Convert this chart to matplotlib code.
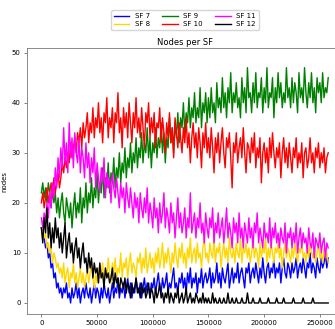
import numpy as np
import matplotlib.pyplot as plt

# ==== DATA (one sample every 1250 time units) ====
STEP = 1250
SF_LABELS = ["SF 7", "SF 8", "SF 9", "SF 10", "SF 11", "SF 12"]
SF_COLORS = ["blue", "gold", "green", "red", "magenta", "black"]

sf7 = [15, 14, 13, 11, 12, 9, 10, 7, 8, 5,
       6, 3, 4, 2, 3, 1, 3, 2, 4, 1,
       2, 0, 3, 1, 2, 4, 1, 3, 0, 2,
       3, 1, 4, 2, 1, 3, 0, 2, 4, 1,
       3, 2, 0, 3, 1, 4, 2, 1, 3, 0,
       2, 4, 1, 3, 2, 5, 1, 3, 2, 4,
       1, 3, 5, 2, 4, 1, 3, 2, 5, 3,
       2, 4, 1, 3, 5, 2, 4, 3, 1, 4,
       3, 5, 2, 4, 6, 3, 2, 5, 3, 4,
       6, 2, 4, 3, 5, 7, 3, 4, 2, 5,
       4, 6, 3, 5, 2, 6, 4, 7, 3, 5,
       4, 6, 2, 5, 4, 7, 3, 5, 6, 4,
       5, 7, 3, 6, 4, 5, 8, 4, 6, 3,
       7, 5, 4, 6, 8, 3, 5, 7, 4, 6,
       5, 8, 4, 6, 7, 5, 3, 7, 6, 8,
       4, 6, 7, 5, 8, 6, 4, 7, 5, 9,
       6, 4, 7, 8, 5, 7, 6, 9, 5, 7,
       6, 8, 4, 7, 9, 6, 5, 8, 7, 5,
       8, 6, 7, 9, 5, 7, 8, 6, 9, 7,
       5, 8, 7, 10, 6, 8, 7, 5, 9, 7,
       6, 9, 7, 8, 10, 7, 9]

sf8 = [15, 14, 13, 14, 11, 12, 10, 11, 8, 10,
       9, 7, 8, 6, 7, 5, 8, 4, 6, 7,
       3, 6, 5, 8, 4, 6, 3, 5, 7, 4,
       6, 3, 5, 7, 4, 6, 8, 5, 3, 6,
       4, 7, 5, 6, 8, 4, 7, 5, 9, 6,
       4, 8, 6, 9, 5, 7, 6, 10, 5, 8,
       7, 9, 5, 8, 10, 6, 8, 7, 5, 9,
       8, 10, 6, 9, 7, 11, 6, 8, 10, 7,
       9, 6, 10, 8, 11, 7, 9, 12, 7, 10,
       8, 11, 9, 6, 10, 8, 12, 9, 7, 11,
       9, 12, 8, 10, 7, 11, 9, 13, 8, 10,
       11, 8, 12, 9, 10, 7, 11, 13, 9, 10,
       8, 12, 10, 9, 13, 8, 11, 10, 12, 7,
       10, 12, 9, 11, 8, 13, 10, 9, 11, 8,
       12, 10, 9, 13, 8, 11, 10, 12, 9, 11,
       8, 10, 13, 9, 11, 10, 7, 12, 9, 11,
       10, 13, 8, 11, 9, 12, 10, 8, 11, 10,
       12, 9, 11, 7, 10, 12, 9, 11, 10, 8,
       11, 9, 12, 10, 8, 11, 10, 12, 9, 10,
       8, 11, 9, 12, 10, 9, 11, 8, 10, 12,
       9, 10, 8, 11, 9, 10, 8]

sf9 = [22, 24, 21, 23, 20, 24, 22, 19, 23, 20,
       22, 18, 21, 17, 20, 22, 18, 16, 21, 19,
       17, 20, 15, 19, 22, 17, 20, 18, 23, 16,
       21, 19, 24, 18, 22, 20, 25, 19, 23, 21,
       26, 20, 24, 22, 27, 21, 25, 23, 28, 22,
       26, 24, 29, 23, 27, 25, 30, 24, 28, 26,
       31, 25, 29, 27, 32, 26, 30, 28, 33, 27,
       31, 29, 34, 28, 32, 30, 35, 29, 33, 27,
       32, 30, 35, 29, 33, 31, 36, 30, 34, 28,
       33, 31, 37, 32, 35, 30, 36, 33, 38, 32,
       37, 35, 40, 34, 38, 36, 41, 35, 39, 37,
       42, 36, 39, 37, 43, 35, 40, 38, 42, 36,
       41, 37, 43, 38, 40, 36, 44, 39, 41, 38,
       45, 39, 42, 37, 43, 40, 46, 38, 42, 40,
       44, 39, 41, 37, 45, 40, 43, 38, 47, 41,
       42, 38, 44, 40, 46, 39, 42, 41, 45, 38,
       43, 40, 47, 39, 42, 41, 45, 37, 43, 40,
       46, 41, 44, 39, 42, 40, 47, 41, 43, 39,
       45, 40, 44, 42, 38, 46, 41, 43, 40, 47,
       42, 39, 44, 41, 46, 40, 43, 38, 45, 42,
       44, 40, 46, 41, 43, 42, 45]

sf10 = [20, 22, 19, 21, 23, 20, 22, 24, 21, 25,
        22, 24, 26, 23, 25, 28, 26, 29, 27, 30,
        28, 32, 29, 31, 33, 30, 34, 32, 35, 31,
        36, 33, 35, 38, 32, 36, 34, 39, 33, 37,
        35, 40, 34, 37, 32, 38, 36, 41, 33, 37,
        35, 39, 32, 38, 36, 42, 34, 37, 31, 39,
        35, 38, 33, 40, 36, 32, 38, 35, 41, 34,
        37, 33, 39, 35, 31, 38, 36, 40, 33, 37,
        34, 38, 31, 36, 35, 39, 32, 37, 34, 30,
        36, 33, 38, 32, 35, 29, 37, 34, 31, 36,
        33, 30, 35, 32, 37, 31, 34, 28, 33, 36,
        31, 34, 29, 35, 32, 27, 34, 31, 36, 30,
        33, 29, 35, 31, 26, 33, 30, 34, 28, 32,
        35, 30, 27, 33, 31, 34, 29, 23, 32, 30,
        34, 28, 31, 33, 29, 35, 30, 26, 32, 31,
        28, 33, 30, 34, 27, 31, 29, 33, 24, 30,
        32, 28, 31, 26, 33, 29, 34, 30, 27, 31,
        29, 32, 25, 30, 33, 28, 31, 27, 32, 29,
        26, 31, 29, 33, 27, 30, 28, 32, 25, 30,
        31, 27, 29, 33, 28, 30, 26, 31, 29, 32,
        27, 30, 28, 31, 26, 29, 30]

sf11 = [17, 15, 18, 16, 20, 17, 22, 19, 24, 21,
        27, 23, 29, 25, 31, 27, 35, 28, 32, 26,
        36, 29, 33, 27, 34, 30, 28, 33, 26, 31,
        29, 25, 32, 27, 30, 24, 29, 26, 31, 23,
        28, 25, 22, 27, 24, 29, 21, 26, 23, 25,
        20, 26, 23, 21, 25, 22, 19, 24, 21, 23,
        18, 24, 21, 19, 23, 20, 17, 22, 19, 21,
        16, 22, 19, 17, 21, 18, 23, 16, 20, 18,
        15, 21, 17, 19, 14, 20, 16, 18, 22, 15,
        19, 17, 14, 20, 16, 18, 13, 17, 21, 15,
        18, 14, 16, 19, 13, 17, 15, 22, 14, 16,
        18, 13, 17, 15, 20, 14, 16, 12, 18, 15,
        13, 17, 15, 19, 12, 16, 14, 18, 13, 15,
        17, 12, 15, 19, 13, 16, 14, 11, 17, 14,
        16, 12, 18, 13, 15, 11, 16, 14, 12, 17,
        13, 15, 11, 16, 14, 18, 12, 15, 13, 11,
        16, 13, 14, 12, 17, 11, 15, 13, 16, 12,
        14, 11, 15, 13, 12, 16, 10, 14, 13, 15,
        11, 14, 12, 16, 10, 13, 15, 11, 14, 12,
        13, 10, 15, 12, 11, 14, 9, 13, 12, 11,
        14, 10, 12, 13, 9, 12, 11]

sf12 = [15, 12, 17, 14, 19, 13, 16, 11, 15, 12,
        17, 13, 15, 11, 14, 10, 13, 16, 9, 12,
        14, 10, 12, 8, 11, 13, 9, 11, 7, 10,
        12, 8, 9, 6, 10, 7, 9, 5, 8, 6,
        7, 4, 8, 5, 6, 3, 7, 5, 6, 4,
        5, 7, 3, 6, 4, 5, 2, 5, 4, 3,
        5, 2, 4, 3, 1, 4, 2, 3, 5, 2,
        3, 1, 4, 2, 3, 1, 2, 4, 1, 3,
        2, 0, 3, 1, 2, 4, 1, 2, 0, 2,
        1, 3, 0, 2, 1, 0, 2, 1, 3, 0,
        1, 2, 0, 1, 3, 0, 1, 2, 0, 1,
        0, 2, 1, 0, 1, 0, 2, 0, 1, 0,
        1, 0, 0, 2, 0, 1, 0, 0, 1, 0,
        0, 1, 0, 0, 2, 0, 0, 1, 0, 0,
        1, 0, 0, 0, 1, 0, 0, 0, 2, 0,
        0, 0, 1, 0, 0, 0, 0, 1, 0, 0,
        0, 0, 0, 1, 0, 0, 0, 0, 0, 1,
        0, 0, 0, 0, 1, 0, 0, 0, 0, 0,
        0, 1, 0, 0, 0, 0, 0, 0, 1, 0,
        0, 0, 0, 0, 0, 1, 0, 0, 0, 0,
        0, 0, 0, 0, 0, 0, 0]

series = [sf7, sf8, sf9, sf10, sf11, sf12]
t = np.arange(len(sf7)) * STEP

# ==== PLOT ====
fig = plt.figure(figsize=(3.35, 3.29), dpi=100)
ax = fig.add_axes([0.0806, 0.0456, 0.943, 0.808])

for vals, lab, col in zip(series, SF_LABELS, SF_COLORS):
    ax.plot(t[:len(vals)], vals, color=col, lw=1.0, label=lab)

ax.set_xlim(-12900, 270700)
ax.set_ylim(-2.2, 50.9)
ax.set_xticks([0, 50000, 100000, 150000, 200000, 250000])
ax.set_yticks([0, 10, 20, 30, 40, 50])
ax.tick_params(labelsize=5, length=2.5, width=0.5, color="#555555", pad=2)
for sp in ax.spines.values():
    sp.set_linewidth(0.6)
    sp.set_color("#777777")

ax.set_ylabel("nodes", fontsize=5, labelpad=3)
ax.set_title("Nodes per SF", fontsize=6, pad=2)
ax.legend(loc="lower center", bbox_to_anchor=(0.5, 1.055), ncol=3,
          fontsize=5, handlelength=2.2, columnspacing=1.8,
          handletextpad=0.8, borderpad=0.4, labelspacing=0.3,
          frameon=True, fancybox=True, edgecolor="#cccccc")

fig.savefig("out.png", dpi=100)
